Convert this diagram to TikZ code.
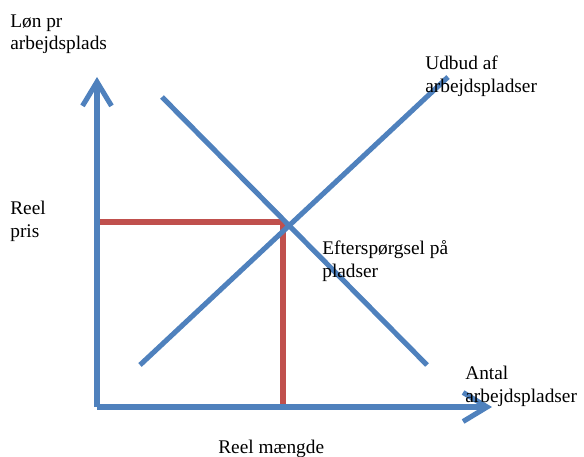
\documentclass[tikz,border=0pt]{standalone}
\usepackage{fontspec}
\setmainfont{Liberation Serif}
\usetikzlibrary{arrows.meta}

\definecolor{kurveblaa}{RGB}{79,129,189}
\definecolor{kurverod}{RGB}{192,80,77}

\begin{document}
\begin{tikzpicture}[x=0.02cm, y=-0.02cm,
	every node/.style={anchor=base west, inner sep=0pt, align=left, font=\fontsize{11}{12.6}\selectfont},
	kurve/.style={draw=kurveblaa, line width=2.9pt},
	pris/.style={draw=kurverod, line width=2.9pt},
	akse/.style={kurve, -{Straight Barb[length=4.8mm, width=5.8mm]}}]
			\useasboundingbox (0,0) rectangle (584,456);
			% akser
			\coordinate (o) at (97,407);
			\coordinate (ytop) at (97,77);
			\coordinate (xend) at (492,407);
			% kurver
			\coordinate (s1) at (140,365);
			\coordinate (s2) at (448,77);
			\coordinate (d1) at (162,97);
			\coordinate (d2) at (427,365);
			% ligevaegt
			\coordinate (ly) at (97,222);
			\coordinate (l) at (283,222);
			\coordinate (lx) at (283,407);
			
			\path (ly) edge[pris] (l);
			\path (l) edge[pris] (lx);
			\path (s1) edge[kurve] (s2);
			\path (d1) edge[kurve] (d2);
			\path (o) edge[akse] (ytop);
			\path (o) edge[akse] (xend);
			
			% tekster (base = sidste linje)
			\node (yl) at (10,50) {Løn pr\\arbejdsplads};
			\node (ud) at (425,92) {Udbud af\\arbejdspladser};
			\node (rp) at (10,237) {Reel\\pris};
			\node (ef) at (322,277) {Efterspørgsel på\\pladser};
			\node (xl) at (465,402) {Antal\\arbejdspladser};
			\node (rm) at (218,453) {Reel mængde};
			\end{tikzpicture}
\end{document}
